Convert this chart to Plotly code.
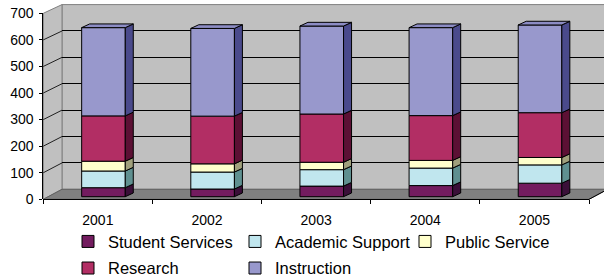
import plotly.graph_objects as go

# ---------------- data ----------------
years = ["2001", "2002", "2003", "2004", "2005"]
student_services = [34, 29, 40, 42, 51]
academic_support = [63, 64, 62, 66, 69]
public_service = [37, 31, 28, 29, 28]
research = [171, 180, 182, 169, 169]
instruction = [333, 331, 332, 332, 331]
y_ticks = [0, 100, 200, 300, 400, 500, 600, 700]

# (name, values, front colour, side colour, legend row)
series = [
    ("Student Services", student_services, "#731C5F", "#3A0F38", "legend"),
    ("Academic Support", academic_support, "#C0E6EE", "#5F9090", "legend"),
    ("Public Service", public_service, "#FFFFCC", "#A0A07C", "legend"),
    ("Research", research, "#B22E64", "#5C1034", "legend2"),
    ("Instruction", instruction, "#9898CC", "#4A4A8C", "legend2"),
]
TOP_COLOR = "#8C8CC4"

# ---------------- geometry (pixels of the 604x277 canvas) ----------------
W, H = 604, 277
def X(px): return px / W
def Y(py): return 1 - py / H

FRONT_L, FRONT_R, FRONT_Y0, FRONT_Y700 = 43.3, 589.0, 199.3, 13.3
BACK_L, BACK_Y0, BACK_Y700 = 62.0, 189.3, 4.6
DEPTH_X = BACK_L - FRONT_L
BAR_BASE_PY, BAR_SCALE = 196.7, 0.265     # px per data unit at bar depth
CAT_PX = (FRONT_R - FRONT_L) / len(years)
BAR_W = 43.6 / CAT_PX
BAR_OFF = -16.2 / CAT_PX
DX = 8.0 / CAT_PX
DY = 3.7 / BAR_SCALE

FONT = "Liberation Sans, Arial, sans-serif"

fig = go.Figure()

# placeholder so that the wall-grid subplot exists
fig.add_trace(go.Scatter(x=[None], y=[None], xaxis="x", yaxis="y",
                         showlegend=False, hoverinfo="skip"))

idx = list(range(len(years)))
base = [0] * len(years)
for name, vals, col, side, leg in series:
    fig.add_trace(go.Bar(
        x=idx, y=vals, base=base[:], name=name, width=BAR_W, offset=BAR_OFF,
        marker=dict(color=col, line=dict(color="black", width=1)),
        xaxis="x2", yaxis="y2", hoverinfo="skip", legend=leg,
        legendwidth=125 if name == "Academic Support" else 122))
    sx, sy = [], []
    for i, (b, v) in enumerate(zip(base, vals)):
        xr = i + BAR_OFF + BAR_W
        t = b + v
        sx += [xr, xr + DX, xr + DX, xr, xr, None]
        sy += [b, b + DY, t + DY, t, b, None]
    fig.add_trace(go.Scatter(
        x=sx, y=sy, mode="lines", fill="toself", fillcolor=side,
        line=dict(color="black", width=1), showlegend=False,
        xaxis="x2", yaxis="y2", hoverinfo="skip"))
    base = [b + v for b, v in zip(base, vals)]

tx, ty = [], []
for i, t in enumerate(base):
    xl = i + BAR_OFF
    xr = xl + BAR_W
    tx += [xl, xl + DX, xr + DX, xr, xl, None]
    ty += [t, t + DY, t + DY, t, t, None]
fig.add_trace(go.Scatter(
    x=tx, y=ty, mode="lines", fill="toself", fillcolor=TOP_COLOR,
    line=dict(color="black", width=1), showlegend=False,
    xaxis="x2", yaxis="y2", hoverinfo="skip"))

fig.add_trace(go.Scatter(x=[None], y=[None], xaxis="x2", yaxis="y3",
                         showlegend=False, hoverinfo="skip"))

# ---------------- walls / floor (decoration) ----------------
shapes = []
shapes.append(dict(type="rect", xref="paper", yref="paper",
                   x0=X(BACK_L), x1=X(W + 2), y0=Y(BACK_Y0), y1=Y(BACK_Y700),
                   fillcolor="#C0C0C0", line=dict(color="#808080", width=1), layer="below"))
shapes.append(dict(type="path", xref="paper", yref="paper",
                   path=f"M{X(FRONT_L)},{Y(FRONT_Y0)} L{X(FRONT_L)},{Y(FRONT_Y700)} "
                        f"L{X(BACK_L)},{Y(BACK_Y700)} L{X(BACK_L)},{Y(BACK_Y0)} Z",
                   fillcolor="#C0C0C0", line=dict(color="#808080", width=1), layer="below"))
shapes.append(dict(type="path", xref="paper", yref="paper",
                   path=f"M{X(FRONT_L)},{Y(FRONT_Y0)} L{X(FRONT_R)},{Y(FRONT_Y0)} "
                        f"L{X(FRONT_R + DEPTH_X)},{Y(BACK_Y0)} L{X(BACK_L)},{Y(BACK_Y0)} Z",
                   fillcolor="#808080", line=dict(color="#606060", width=1), layer="below"))
shapes.append(dict(type="line", xref="paper", yref="paper",
                   x0=X(FRONT_R), y0=Y(FRONT_Y0), x1=X(FRONT_R + DEPTH_X), y1=Y(BACK_Y0),
                   line=dict(color="black", width=1), layer="below"))
for v in y_ticks[1:-1]:
    fy = FRONT_Y0 - (FRONT_Y0 - FRONT_Y700) * v / 700
    by = BACK_Y0 - (BACK_Y0 - BACK_Y700) * v / 700
    shapes.append(dict(type="line", xref="paper", yref="paper",
                       x0=X(FRONT_L), y0=Y(fy), x1=X(BACK_L), y1=Y(by),
                       line=dict(color="#202020", width=1), layer="below"))

legend_common = dict(orientation="h", x=X(68), xanchor="left", yanchor="middle",
                     entrywidth=122, entrywidthmode="pixels", traceorder="normal",
                     font=dict(family=FONT, size=16.5, color="black"),
                     bgcolor="rgba(0,0,0,0)", borderwidth=0)

fig.update_layout(
    width=W, height=H, autosize=False,
    margin=dict(l=0, r=0, t=0, b=0, pad=0, autoexpand=False),
    paper_bgcolor="white", plot_bgcolor="rgba(0,0,0,0)",
    barmode="overlay", shapes=shapes,
    font=dict(family=FONT, size=14, color="black"),
    xaxis=dict(domain=[X(BACK_L), 1], range=[0, 1], visible=False, anchor="y"),
    yaxis=dict(domain=[Y(BACK_Y0), Y(BACK_Y700)], range=[0, 700], anchor="x",
               tickvals=y_ticks[1:-1], showgrid=True, gridcolor="black", gridwidth=1,
               showticklabels=False, ticks="", showline=False, zeroline=False),
    xaxis2=dict(domain=[X(FRONT_L), X(FRONT_R)], range=[-0.5, len(years) - 0.5],
                anchor="free", position=Y(FRONT_Y0),
                tickvals=idx, ticktext=years, ticks="", showgrid=False, zeroline=False,
                showline=True, linecolor="black", linewidth=1, ticklabelstandoff=8,
                tickfont=dict(family=FONT, size=14, color="black"),
                minor=dict(tickvals=[i - 0.5 for i in range(len(years) + 1)],
                           ticks="outside", ticklen=4, tickcolor="black", showgrid=False)),
    yaxis2=dict(domain=[0, 1], range=[(BAR_BASE_PY - H) / BAR_SCALE, BAR_BASE_PY / BAR_SCALE],
                visible=False, anchor="x2"),
    yaxis3=dict(domain=[Y(FRONT_Y0), Y(FRONT_Y700)], range=[0, 700], anchor="x2",
                tickvals=y_ticks, ticks="outside", ticklen=3, tickcolor="black",
                showline=True, linecolor="black", linewidth=1, showgrid=False, zeroline=False,
                ticklabelstandoff=3,
                tickfont=dict(family=FONT, size=14, color="black")),
    legend=dict(legend_common, y=Y(241.7)),
    legend2=dict(legend_common, y=Y(268.3)),
    showlegend=True,
)

fig.write_html("out.html", post_script="document.body.style.margin='0px';",
               config={"displayModeBar": False})
